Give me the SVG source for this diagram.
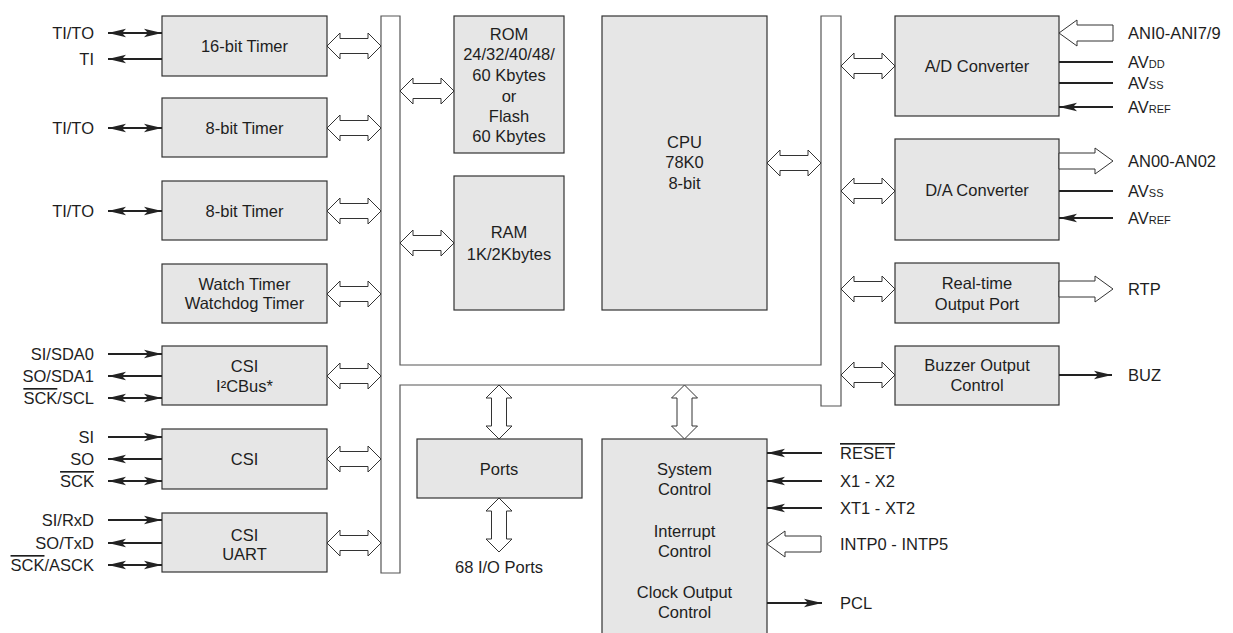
<svg xmlns="http://www.w3.org/2000/svg" width="1233" height="633" viewBox="0 0 1233 633">
<style>
text{font-family:"Liberation Sans",Arial,sans-serif;font-size:16.5px;fill:#1e1e1e}
.c{text-anchor:middle}
.e{text-anchor:end}
.blk{fill:#e6e6e6;stroke:#333;stroke-width:1.2}
.bus{fill:#fff;stroke:#555;stroke-width:1.2}
.ho{fill:#fff;stroke:#333;stroke-width:1}
.sig{stroke:#222;stroke-width:1.8;fill:none}
.sub{font-size:11px}
.ol{text-decoration:overline}
</style>
<defs>
<marker id="ah" markerUnits="userSpaceOnUse" viewBox="0 -5 18 10" refX="18" refY="0" markerWidth="18" markerHeight="10" orient="auto-start-reverse">
<path d="M0,-4.2 L18,0 L0,4.2 L4,0 Z" fill="#222"/>
</marker>
<path id="dbl" d="M0,0 L13,-13 L13,-7.5 L41,-7.5 L41,-13 L54,0 L41,13 L41,7.5 L13,7.5 L13,13 Z"/>
<path id="sgl" d="M0,0 L18,-13 L18,-8 L54,-8 L54,8 L18,8 L18,13 Z"/>
</defs>

<g id="bus">
<path class="bus" d="M381,16 L400,16 L400,365 L821,365 L821,16 L841,16 L841,406 L821,406 L821,385 L400,385 L400,573 L381,573 Z"/>
</g>

<g id="timer16"><rect class="blk" x="162" y="16" width="165" height="60"/><text class="c" x="244.5" y="52">16-bit Timer</text></g>
<g id="timer8a"><rect class="blk" x="162" y="98" width="165" height="59"/><text class="c" x="244.5" y="134">8-bit Timer</text></g>
<g id="timer8b"><rect class="blk" x="162" y="181" width="165" height="59"/><text class="c" x="244.5" y="217">8-bit Timer</text></g>
<g id="watch"><rect class="blk" x="162" y="264" width="165" height="59"/><text class="c" x="244.5" y="290">Watch Timer</text><text class="c" x="244.5" y="309">Watchdog Timer</text></g>
<g id="csi_i2c"><rect class="blk" x="162" y="346" width="165" height="59"/><text class="c" x="244.5" y="372">CSI</text><text class="c" x="244.5" y="392">I²CBus*</text></g>
<g id="csi"><rect class="blk" x="162" y="429" width="165" height="60"/><text class="c" x="244.5" y="465">CSI</text></g>
<g id="csi_uart"><rect class="blk" x="162" y="513" width="165" height="59"/><text class="c" x="244.5" y="541">CSI</text><text class="c" x="244.5" y="560">UART</text></g>

<g id="rom"><rect class="blk" x="454" y="16" width="110" height="137"/>
<text class="c" x="509" y="40">ROM</text><text class="c" x="509" y="60">24/32/40/48/</text><text class="c" x="509" y="81">60 Kbytes</text><text class="c" x="509" y="102">or</text><text class="c" x="509" y="122">Flash</text><text class="c" x="509" y="142">60 Kbytes</text></g>
<g id="ram"><rect class="blk" x="454" y="176" width="110" height="134"/><text class="c" x="509" y="238">RAM</text><text class="c" x="509" y="260">1K/2Kbytes</text></g>
<g id="cpu"><rect class="blk" x="602" y="16" width="165" height="294"/><text class="c" x="684.5" y="148">CPU</text><text class="c" x="684.5" y="168">78K0</text><text class="c" x="684.5" y="189">8-bit</text></g>

<g id="adc"><rect class="blk" x="895" y="16" width="164" height="100"/><text class="c" x="977" y="72">A/D Converter</text></g>
<g id="dac"><rect class="blk" x="895" y="139" width="164" height="101"/><text class="c" x="977" y="196">D/A Converter</text></g>
<g id="rtp"><rect class="blk" x="895" y="263" width="164" height="60"/><text class="c" x="977" y="289">Real-time</text><text class="c" x="977" y="310">Output Port</text></g>
<g id="buzzer"><rect class="blk" x="895" y="346" width="164" height="59"/><text class="c" x="977" y="371">Buzzer Output</text><text class="c" x="977" y="391">Control</text></g>

<g id="ports"><rect class="blk" x="417" y="439" width="165" height="59"/><text class="c" x="499" y="475">Ports</text><text class="c" x="499" y="573">68 I/O Ports</text></g>
<g id="sysctl"><rect class="blk" x="602" y="439" width="165" height="200"/>
<text class="c" x="684.5" y="475">System</text><text class="c" x="684.5" y="495">Control</text><text class="c" x="684.5" y="537">Interrupt</text><text class="c" x="684.5" y="557">Control</text><text class="c" x="684.5" y="598">Clock Output</text><text class="c" x="684.5" y="618">Control</text></g>

<g id="connectors">
<g class="ho">
<use href="#dbl" transform="translate(327,46)"/>
<use href="#dbl" transform="translate(327,128)"/>
<use href="#dbl" transform="translate(327,211)"/>
<use href="#dbl" transform="translate(327,294)"/>
<use href="#dbl" transform="translate(327,376)"/>
<use href="#dbl" transform="translate(327,459)"/>
<use href="#dbl" transform="translate(327,543)"/>
<use href="#dbl" transform="translate(400,91)"/>
<use href="#dbl" transform="translate(400,243)"/>
<use href="#dbl" transform="translate(767,163)"/>
<use href="#dbl" transform="translate(841,66)"/>
<use href="#dbl" transform="translate(841,191)"/>
<use href="#dbl" transform="translate(841,289)"/>
<use href="#dbl" transform="translate(841,375)"/>
<use href="#dbl" transform="translate(499,385) rotate(90)"/>
<use href="#dbl" transform="translate(684.5,385) rotate(90)"/>
<use href="#dbl" transform="translate(499,498) rotate(90)"/>
<use href="#sgl" transform="translate(1059,33)"/>
<use href="#sgl" transform="translate(1113,161) scale(-1,1)"/>
<use href="#sgl" transform="translate(1113,289) scale(-1,1)"/>
<use href="#sgl" transform="translate(767,544)"/>
</g>
<g class="sig">
<line x1="108" y1="33" x2="162" y2="33" marker-start="url(#ah)" marker-end="url(#ah)"/>
<line x1="108" y1="59" x2="162" y2="59" marker-start="url(#ah)"/>
<line x1="108" y1="128" x2="162" y2="128" marker-start="url(#ah)" marker-end="url(#ah)"/>
<line x1="108" y1="211" x2="162" y2="211" marker-start="url(#ah)" marker-end="url(#ah)"/>
<line x1="108" y1="354" x2="162" y2="354" marker-end="url(#ah)"/>
<line x1="108" y1="376" x2="162" y2="376" marker-start="url(#ah)"/>
<line x1="108" y1="398" x2="162" y2="398" marker-start="url(#ah)" marker-end="url(#ah)"/>
<line x1="108" y1="437" x2="162" y2="437" marker-end="url(#ah)"/>
<line x1="108" y1="459" x2="162" y2="459" marker-start="url(#ah)"/>
<line x1="108" y1="481" x2="162" y2="481" marker-start="url(#ah)" marker-end="url(#ah)"/>
<line x1="108" y1="520" x2="162" y2="520" marker-end="url(#ah)"/>
<line x1="108" y1="543" x2="162" y2="543" marker-start="url(#ah)"/>
<line x1="108" y1="565" x2="162" y2="565" marker-start="url(#ah)" marker-end="url(#ah)"/>
<line x1="1059" y1="62" x2="1113" y2="62"/>
<line x1="1059" y1="83" x2="1113" y2="83"/>
<line x1="1059" y1="107" x2="1113" y2="107" marker-start="url(#ah)"/>
<line x1="1059" y1="191" x2="1113" y2="191"/>
<line x1="1059" y1="218" x2="1113" y2="218" marker-start="url(#ah)"/>
<line x1="1059" y1="375" x2="1112" y2="375" marker-end="url(#ah)"/>
<line x1="767" y1="453" x2="822" y2="453" marker-start="url(#ah)"/>
<line x1="767" y1="481" x2="822" y2="481" marker-start="url(#ah)"/>
<line x1="767" y1="508" x2="822" y2="508" marker-start="url(#ah)"/>
<line x1="767" y1="603" x2="822" y2="603" marker-end="url(#ah)"/>
</g>
</g>

<g id="labels">
<text class="e" x="94" y="39">TI/TO</text>
<text class="e" x="94" y="65">TI</text>
<text class="e" x="94" y="134">TI/TO</text>
<text class="e" x="94" y="217">TI/TO</text>
<text class="e" x="94" y="360">SI/SDA0</text>
<text class="e" x="94" y="382">SO/SDA1</text>
<text class="e" x="94" y="404"><tspan class="ol">SCK</tspan>/SCL</text>
<text class="e" x="94" y="443">SI</text>
<text class="e" x="94" y="465">SO</text>
<text class="e" x="94" y="487"><tspan class="ol">SCK</tspan></text>
<text class="e" x="94" y="526">SI/RxD</text>
<text class="e" x="94" y="549">SO/TxD</text>
<text class="e" x="94" y="571"><tspan class="ol">SCK</tspan>/ASCK</text>
<text x="1128" y="39">ANI0-ANI7/9</text>
<text x="1128" y="68">AV<tspan class="sub">DD</tspan></text>
<text x="1128" y="89">AV<tspan class="sub">SS</tspan></text>
<text x="1128" y="113">AV<tspan class="sub">REF</tspan></text>
<text x="1128" y="167">AN00-AN02</text>
<text x="1128" y="197">AV<tspan class="sub">SS</tspan></text>
<text x="1128" y="224">AV<tspan class="sub">REF</tspan></text>
<text x="1128" y="295">RTP</text>
<text x="1128" y="381">BUZ</text>
<text x="840" y="459"><tspan class="ol">RESET</tspan></text>
<text x="840" y="487">X1 - X2</text>
<text x="840" y="514">XT1 - XT2</text>
<text x="840" y="550">INTP0 - INTP5</text>
<text x="840" y="609">PCL</text>
</g>
</svg>
